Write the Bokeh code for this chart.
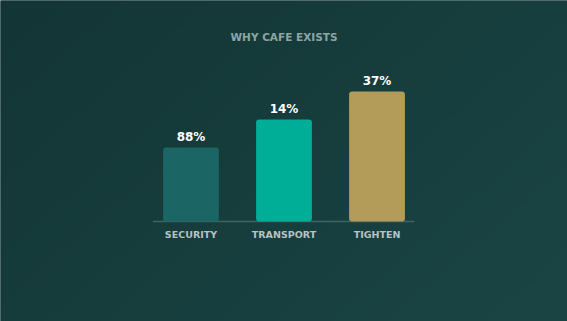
import numpy as np
from bokeh.plotting import figure
from bokeh.models import FactorRange, Range1d, ColumnDataSource, Label
from bokeh.core.properties import value
from bokeh.embed import file_html
from bokeh.resources import INLINE

title = "WHY CAFE EXISTS"
categories = ["SECURITY", "TRANSPORT", "TIGHTEN"]
bar_heights = [74, 102, 130]
value_labels = ["88%", "14%", "37%"]
bar_colors = ["#1c6565", "#00ae98", "#b39c5a"]

W, H = 567, 321
PAD = 1.032
x_start = -PAD * len(categories) / 2
x_end = len(categories) + PAD * len(categories) / 2
y0, y1 = -100, 221
# background image extends a little beyond the visible frame
bx0, bx1 = x_start - 0.3, x_end + 0.3
by0, by1 = y0 - 20, y1 + 20

p = figure(width=W, height=H,
           x_range=FactorRange(*categories, range_padding=PAD),
           y_range=Range1d(y0, y1),
           output_backend="svg", toolbar_location=None, min_border=0,
           x_axis_location=None, y_axis_location=None)
p.grid.visible = False
p.outline_line_color = None
p.background_fill_color = "#173e3e"
p.border_fill_color = "#173e3e"

# subtle diagonal background gradient
nx, ny = 300, 180
u = np.linspace(0, 1, nx)[None, :]
v = 1 - np.linspace(0, 1, ny)[:, None]
t = (u * 0.6 + v * 0.4)
c_tl = np.array([0x13, 0x34, 0x34])
c_br = np.array([0x1b, 0x46, 0x46])
rgb = c_tl[None, None, :] + t[..., None] * (c_br - c_tl)[None, None, :]
img = np.empty((ny, nx), dtype=np.uint32)
view = img.view(dtype=np.uint8).reshape((ny, nx, 4))
view[..., :3] = rgb.astype(np.uint8)
view[..., 3] = 255
p.image_rgba(image=[img], x=bx0, y=by0, dw=bx1 - bx0, dh=by1 - by0)

src = ColumnDataSource(dict(cat=categories, h=bar_heights, lab=value_labels, col=bar_colors))

p.segment(x0=[(categories[0], -0.41)], y0=[0], x1=[(categories[-1], 0.40)], y1=[0],
          line_color="#3f6464", line_width=1.5)

p.vbar(x="cat", top="h", bottom=0, width=0.6, fill_color="col", line_color=None,
       border_radius=3, source=src)

p.text(x="cat", y="h", text="lab", source=src, text_align="center", text_baseline="middle",
       y_offset=-11, text_color="#ffffff", text_font=value("DejaVu Sans"),
       text_font_style="bold", text_font_size="12px")

p.text(x="cat", y=0, text="cat", source=src, text_align="center", text_baseline="middle",
       y_offset=13, text_color="#b4c3c3", text_font=value("DejaVu Sans"),
       text_font_style="bold", text_font_size="9.5px")

p.add_layout(Label(x=283.5, y=H - 36, x_units="screen", y_units="screen", text=title,
                   text_align="center", text_baseline="middle", text_color="#8ea4a4",
                   text_font="DejaVu Sans", text_font_style="bold", text_font_size="10.5px"))

open("out.html", "w").write(file_html(p, INLINE))
